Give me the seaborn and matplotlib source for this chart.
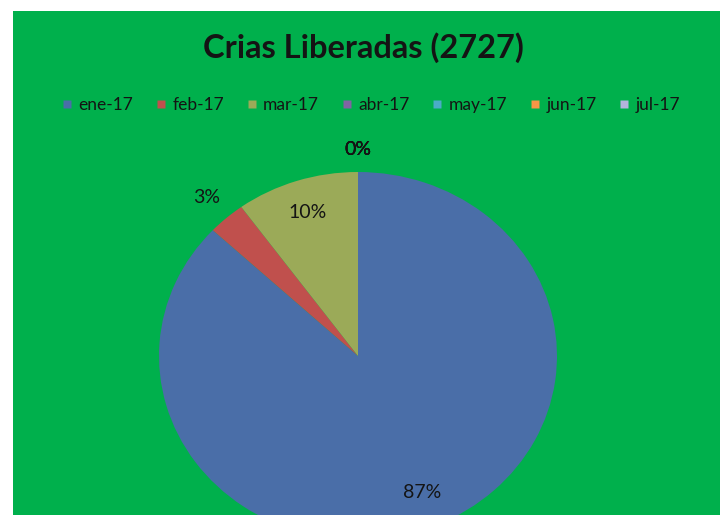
import numpy as np
import matplotlib
matplotlib.use('Agg')
import matplotlib.pyplot as plt
from matplotlib.patches import Rectangle
from matplotlib.lines import Line2D
import seaborn as sns

# ── data ─────────────────────────────────────────────
months = ['ene-17', 'feb-17', 'mar-17', 'abr-17', 'may-17', 'jun-17', 'jul-17']
crias = [2372, 83, 272, 0, 0, 0, 0]
title = 'Crias Liberadas (2727)'

# label distance from centre (fraction of radius), per slice
label_dist = [0.81, 1.15, 0.82, 1.12, 1.12, 1.12, 1.12]

# ── style ────────────────────────────────────────────
sns.set_theme(style='white')
plt.rcParams['font.family'] = ['Lato', 'DejaVu Sans']
palette = sns.color_palette(['#4A6EA8', '#C0504D', '#9BAA58', '#8064A2',
                             '#4BACC6', '#F79646', '#B4B4DC'])
bg_green = '#00B04C'
txt = '#141414'

W, H = 723, 515
fig = plt.figure(figsize=(W / 100, H / 100), dpi=100, facecolor='white')
fig.patches.append(Rectangle((13 / W, 0), (720 - 13) / W, (H - 11) / H,
                             transform=fig.transFigure, facecolor=bg_green,
                             edgecolor='none', zorder=-1))

ax = fig.add_axes([0, 0, 1, 1])
ax.set_facecolor('none')
wedges, _ = ax.pie(crias, colors=palette, startangle=90, counterclock=False,
                   wedgeprops=dict(linewidth=0))
ax.set_aspect('auto')

# pie centre at pixel (358, 356 from top), radii 199 x 184 px
cx, cy, rx, ry = 358, 356, 199, 184
ax.set_xlim(-cx / rx, (W - cx) / rx)
ax.set_ylim(-(H - cy) / ry, cy / ry)
ax.axis('off')

total = sum(crias)
for w, v, d in zip(wedges, crias, label_dist):
    ang = np.deg2rad((w.theta1 + w.theta2) / 2)
    ax.text(d * np.cos(ang), d * np.sin(ang), f'{v / total:.0%}',
            ha='center', va='center', fontsize=14, color=txt)

fig.text(363 / W, 1 - 48 / H, title, ha='center', va='center',
         fontsize=23.5, fontweight='bold', color=txt)

handles = [Line2D([], [], marker='s', linestyle='', markersize=6,
                  markerfacecolor=c, markeredgecolor='none') for c in palette]
fig.legend(handles, months, loc='center', bbox_to_anchor=(371 / W, 1 - 105 / H),
           ncol=7, frameon=False, fontsize=12.5, handlelength=0.6,
           handletextpad=0.35, columnspacing=1.3, labelcolor=txt)

fig.savefig('out.png', dpi=100, facecolor='white')
